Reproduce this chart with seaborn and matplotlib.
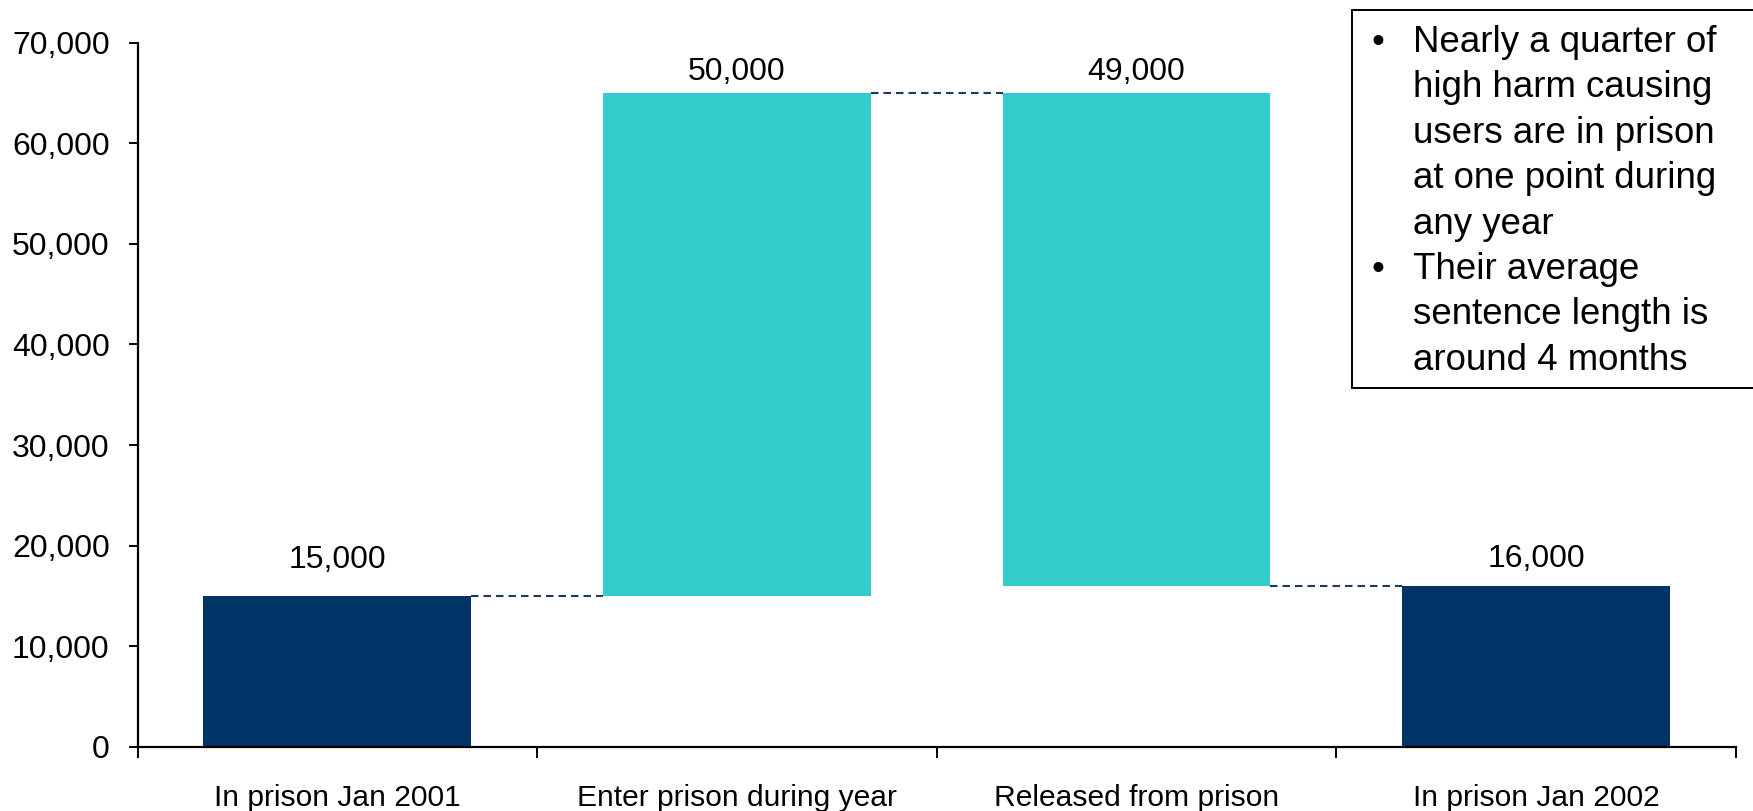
import matplotlib
matplotlib.use("Agg")
import matplotlib.pyplot as plt
import seaborn as sns
import pandas as pd
from matplotlib.patches import Rectangle
from matplotlib.ticker import FuncFormatter

# ---- data ----
categories = ["In prison Jan 2001", "Enter prison during year",
              "Released from prison", "In prison Jan 2002"]
values = [15000, 50000, 49000, 16000]
kinds = ["total", "in", "out", "total"]
bar_colors = ["#003366", "#33CCCC", "#33CCCC", "#003366"]
value_labels = ["15,000", "50,000", "49,000", "16,000"]
y_ticks = [0, 10000, 20000, 30000, 40000, 50000, 60000, 70000]
note_bullets = [
    ["Nearly a quarter of", "high harm causing", "users are in prison",
     "at one point during", "any year"],
    ["Their average", "sentence length is", "around 4 months"],
]

# ---- waterfall geometry from data ----
bottoms, heights, levels = [], [], []
level = 0
for v, k in zip(values, kinds):
    if k == "total":
        b, h = 0, v
        level = v
    elif k == "in":
        b, h = level, v
        level = level + v
    else:
        b, h = level - v, v
        level = level - v
    bottoms.append(b)
    heights.append(h)
    levels.append(level)
tops = [b + h for b, h in zip(bottoms, heights)]

df = pd.DataFrame({"category": categories, "height": heights})

sns.set_theme(style="white", rc={
    "text.color": "black", "axes.labelcolor": "black",
    "xtick.color": "black", "ytick.color": "black",
    "axes.edgecolor": "black",
})
plt.rcParams["font.family"] = ["Liberation Sans", "DejaVu Sans"]

fig = plt.figure(figsize=(17.53, 8.11), dpi=100)
ax = fig.add_axes([137.5 / 1753, 1 - 747 / 811, (1736 - 137.5) / 1753, (747 - 42.5) / 811])

sns.barplot(data=df, x="category", y="height", hue="category",
            palette=bar_colors, legend=False, width=0.67, saturation=1,
            linewidth=0, ax=ax)
for p, b in zip(ax.patches, bottoms):
    p.set_y(b)

# connectors
half = 0.67 / 2
for i in range(len(categories) - 1):
    ax.plot([i + half, i + 1 - half], [levels[i], levels[i]],
            ls=(0, (3.6, 2.4)), color="#1F3A60", lw=1.5, zorder=1)

# value labels
label_offsets = [20.5, 9.4, 9.4, 13.5]
for i, (lab, t) in enumerate(zip(value_labels, tops)):
    ax.annotate(lab, (i, t), xytext=(0, label_offsets[i]),
                textcoords="offset points", ha="center", va="baseline",
                fontsize=23)

ax.set_xlim(-0.5, len(categories) - 0.5)
ax.set_ylim(0, 70000)
ax.set_yticks(y_ticks)
ax.yaxis.set_major_formatter(FuncFormatter(lambda v, p: f"{v:,.0f}"))
ax.set_xticks([i - 0.5 for i in range(len(categories) + 1)])
ax.set_xticklabels([])
ax.set_xticks(range(len(categories)), minor=True)
ax.set_xticklabels(categories, minor=True)
ax.set_xlabel("")
ax.set_ylabel("")

ax.tick_params(axis="x", which="major", direction="out", length=8, width=1.4, bottom=True)
ax.tick_params(axis="x", which="minor", length=0, pad=27, labelsize=21.6, bottom=True)
ax.tick_params(axis="y", which="major", direction="out", length=6.5, width=1.4,
               pad=13.5, labelsize=23, left=True)

for s in ["top", "right"]:
    ax.spines[s].set_visible(False)
for s in ["left", "bottom"]:
    ax.spines[s].set_linewidth(1.6)
    ax.spines[s].set_color("black")

# note box
W, H = 1753, 811
fig.patches.append(Rectangle((1352 / W, 1 - 388 / H), 0.3, (388 - 10) / H,
                             transform=fig.transFigure, fill=True,
                             facecolor="white", edgecolor="black", lw=1.4,
                             zorder=5))
line_step = 45.4
baseline0 = 52
k = 0
for lines in note_bullets:
    for j, line in enumerate(lines):
        yb = 1 - (baseline0 + k * line_step) / H
        if j == 0:
            fig.text(1378 / W, yb, "\u2022", ha="center", va="baseline",
                     fontsize=26.4, zorder=6)
        fig.text(1412.7 / W, yb, line, ha="left", va="baseline",
                 fontsize=26.4, zorder=6)
        k += 1

fig.savefig("out.png", dpi=100)
